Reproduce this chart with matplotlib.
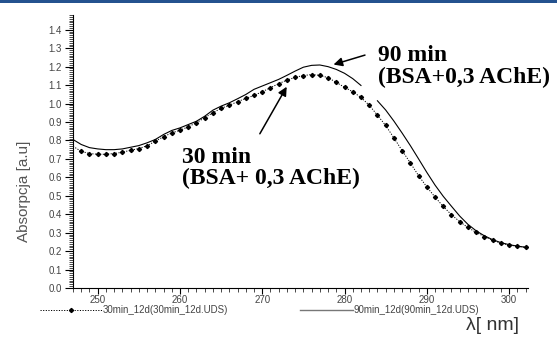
import numpy as np
import matplotlib
matplotlib.use('Agg')
import matplotlib.pyplot as plt
from matplotlib.patches import Rectangle
from matplotlib.ticker import MultipleLocator

# wavelength [nm] and absorbance
wl = np.arange(247, 303)
a30 = [0.768, 0.741, 0.729, 0.725, 0.725, 0.729, 0.736, 0.747, 0.756, 0.771,
       0.796, 0.820, 0.841, 0.855, 0.874, 0.896, 0.923, 0.950, 0.974, 0.991,
       1.010, 1.028, 1.044, 1.064, 1.086, 1.108, 1.127, 1.142, 1.152, 1.157,
       1.153, 1.140, 1.115, 1.088, 1.064, 1.033, 0.991, 0.937, 0.881, 0.814,
       0.745, 0.678, 0.609, 0.548, 0.493, 0.442, 0.397, 0.360, 0.328, 0.301,
       0.279, 0.259, 0.243, 0.233, 0.226, 0.220]
a90 = [0.805, 0.778, 0.761, 0.754, 0.750, 0.750, 0.754, 0.763, 0.772, 0.787,
       0.805, 0.832, 0.854, 0.868, 0.886, 0.904, 0.931, 0.964, 0.986, 1.004,
       1.026, 1.049, 1.077, 1.095, 1.113, 1.131, 1.153, 1.176, 1.197, 1.207,
       1.209, 1.200, 1.185, 1.164, 1.135, 1.098, 1.058, 1.015, 0.965, 0.905,
       0.840, 0.772, 0.700, 0.627, 0.558, 0.497, 0.443, 0.390, 0.345, 0.310,
       0.283, 0.262, 0.246, 0.235, 0.227, 0.221]
gap90 = [283]  # the 90 min trace is broken here in the original

lab30 = '30min_12d(30min_12d.UDS)'
lab90 = '90min_12d(90min_12d.UDS)'

fig = plt.figure(figsize=(5.57, 3.43), dpi=100)
ax = fig.add_axes([73/557, 1-288/343, 455/557, 273/343])

y90 = np.array(a90, dtype=float)
y90[np.isin(wl, gap90)] = np.nan

dot = (0, (1.2, 1.5))
ax.plot(wl, a30, color='black', ls=dot, lw=0.7, marker='D', ms=2.1,
        markevery=slice(1, None))
ax.plot(wl, y90, color='black', lw=0.8)

ax.set_xlim(247, 302.3)
ax.set_ylim(0, 1.48)
for s in ['top', 'right']:
    ax.spines[s].set_visible(False)
ax.xaxis.set_major_locator(MultipleLocator(10))
ax.xaxis.set_minor_locator(MultipleLocator(1))
ax.yaxis.set_major_locator(MultipleLocator(0.1))
ax.yaxis.set_minor_locator(MultipleLocator(0.01))
ax.yaxis.set_major_formatter(plt.FormatStrFormatter('%.1f'))
ax.tick_params(which='major', width=0.8, labelsize=7, labelcolor='#444444')
ax.tick_params(axis='y', which='major', length=6, pad=2)
ax.tick_params(axis='x', which='major', length=4, pad=1)
ax.tick_params(which='minor', length=3, width=0.5)
for lbl in ax.get_xticklabels() + ax.get_yticklabels():
    lbl.set_family('Liberation Sans')

tfont = dict(family='Liberation Serif', weight='bold', size=17, color='black')
ax.text(284.07, 1.229, '90 min', va='baseline', ha='left', **tfont)
ax.text(284.07, 1.109, '(BSA+0,3 AChE)', va='baseline', ha='left', **tfont)
ax.text(260.28, 0.678, '30 min', va='baseline', ha='left', **tfont)
ax.text(260.28, 0.566, '(BSA+ 0,3 AChE)', va='baseline', ha='left', **tfont)

arw = dict(arrowstyle='-|>', color='black', lw=1.1, mutation_scale=13)
ax.annotate('', xy=(273.14, 1.104), xytext=(269.54, 0.823), arrowprops=arw)
ax.annotate('', xy=(278.34, 1.207), xytext=(282.81, 1.267), arrowprops=arw)

# legend row under the axis, one entry each
h30, = ax.plot([], [], color='black', ls=dot, lw=0.7, marker='D', ms=2.1)
h90, = ax.plot([], [], color='#777777', lw=1.0)
lprop = {'family': 'Liberation Sans', 'size': 7}
for h, lab, x0, hl in [(h30, lab30, 40, 6.4), (h90, lab90, 300, 5.5)]:
    leg = fig.legend([h], [lab], loc='upper left', bbox_to_anchor=(x0/557, 1-305/343),
                     frameon=False, handlelength=hl, handletextpad=0.0,
                     borderpad=0, borderaxespad=0, numpoints=1, prop=lprop)
    for t in leg.get_texts():
        t.set_color('#444444')

fig.text(24/557, 1-191/343, 'Absorpcja [a.u]', rotation=90, ha='center', va='center',
         family='Liberation Sans', size=11, color='#555555')
fig.text(492/557, 1-325/343, 'λ[ nm]', ha='center', va='center',
         family='Liberation Sans', size=14, color='#333333')

fig.add_artist(Rectangle((0, 1-2.5/343), 1, 2.5/343, transform=fig.transFigure,
                         color='#24528f', lw=0))

fig.savefig('out.png', dpi=100)
